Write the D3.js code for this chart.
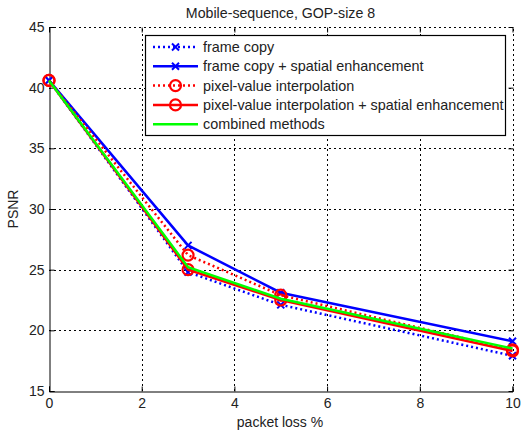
<!DOCTYPE html>
<html><head><meta charset="utf-8">
<script src="https://cdn.jsdelivr.net/npm/d3@7"></script>
<style>body{margin:0;background:#fff}svg{display:block}text{font-family:Arial,"Liberation Sans",sans-serif;fill:#222}</style>
</head><body>
<script>
const xValues = [0, 3, 5, 10];
const seriesNames = ["frame copy","frame copy + spatial enhancement","pixel-value interpolation","pixel-value interpolation + spatial enhancement","combined methods"];
const frameCopy = [40.6, 24.8, 22.1, 17.9];
const frameCopySE = [40.6, 27.0, 23.1, 19.1];
const pixelInterp = [40.6, 26.2, 22.9, 18.4];
const pixelInterpSE = [40.6, 25.0, 22.5, 18.3];
const combined = [40.6, 25.2, 22.6, 18.5];
const xTicks = [0,2,4,6,8,10];
const yTicks = [15,20,25,30,35,40,45];

const W=521,H=437;
const svg=d3.select("body").append("svg").attr("width",W).attr("height",H);
const x=d3.scaleLinear().domain([0,10]).range([49,512.5]);
const y=d3.scaleLinear().domain([15,45]).range([391,27]);
const FF="Arial,'Liberation Sans',sans-serif";

// grid
const g=svg.append("g");
g.selectAll(".gx").data(xTicks.slice(1)).enter().append("line")
 .attr("x1",d=>Math.round(x(d))+0.5).attr("x2",d=>Math.round(x(d))+0.5).attr("y1",y(15)).attr("y2",y(45))
 .attr("stroke","#000").attr("stroke-width",1).attr("stroke-dasharray","2,3");
g.selectAll(".gy").data(yTicks.slice(1)).enter().append("line")
 .attr("y1",d=>Math.round(y(d))+0.5).attr("y2",d=>Math.round(y(d))+0.5).attr("x1",x(0)).attr("x2",x(10))
 .attr("stroke","#000").attr("stroke-width",1).attr("stroke-dasharray","2,3");

// axes
const xa=svg.append("g").attr("transform",`translate(0,${Math.round(y(15))+0.5})`)
 .call(d3.axisBottom(x).tickValues(xTicks).tickSize(-5).tickPadding(7).tickFormat(d3.format("d")));
const xt=svg.append("g").attr("transform",`translate(0,${Math.round(y(45))+0.5})`)
 .call(d3.axisTop(x).tickValues(xTicks).tickSize(-5).tickFormat(""));
xt.select(".domain").remove();
const ya=svg.append("g").attr("transform",`translate(${Math.round(x(0))+0.5},0)`)
 .call(d3.axisLeft(y).tickValues(yTicks).tickSize(-5).tickPadding(5).tickFormat(d3.format("d")));
const yr=svg.append("g").attr("transform",`translate(${Math.round(x(10))+0.5},0)`)
 .call(d3.axisRight(y).tickValues(yTicks).tickSize(-5).tickFormat(""));
yr.select(".domain").remove();
[xa,ya].forEach(a=>{a.select(".domain").attr("stroke","#000");a.selectAll(".tick line").attr("stroke","#000");
 a.selectAll("text").style("font-size","14px").attr("fill","#222").style("font-family",FF);});
xt.selectAll(".tick line").attr("stroke","#000");
yr.selectAll(".tick line").attr("stroke","#000");

// series
const series=[
 {name:seriesNames[0],vals:frameCopy,color:"#0000ff",dash:"2,3",marker:"x"},
 {name:seriesNames[1],vals:frameCopySE,color:"#0000ff",dash:null,marker:"x"},
 {name:seriesNames[2],vals:pixelInterp,color:"#ff0000",dash:"2,3",marker:"o"},
 {name:seriesNames[3],vals:pixelInterpSE,color:"#ff0000",dash:null,marker:"o"},
 {name:seriesNames[4],vals:combined,color:"#00ff00",dash:null,marker:null}
];
const line=d3.line().x(d=>x(d[0])).y(d=>y(d[1]));
function drawMarker(sel,type,color,cx,cy){
 if(type==="x"){
  const s=3.5;
  sel.append("path").attr("d",`M${cx-s},${cy-s}L${cx+s},${cy+s}M${cx-s},${cy+s}L${cx+s},${cy-s}`)
   .attr("stroke",color).attr("stroke-width",2).attr("fill","none");
 } else if(type==="o"){
  sel.append("circle").attr("cx",cx).attr("cy",cy).attr("r",5.5).attr("fill","none").attr("stroke",color).attr("stroke-width",2.2);
 }
}
const plot=svg.append("g");
series.forEach(s=>{
 const pts=xValues.map((xv,i)=>[xv,s.vals[i]]);
 plot.append("path").datum(pts).attr("d",line).attr("fill","none").attr("stroke",s.color)
  .attr("stroke-width",2.5).attr("stroke-dasharray",s.dash);
 if(s.marker) pts.forEach(p=>drawMarker(plot,s.marker,s.color,x(p[0]),y(p[1])));
});

// legend
const lg=svg.append("g");
lg.append("rect").attr("x",145.5).attr("y",35.5).attr("width",360).attr("height",100)
 .attr("fill","#fff").attr("stroke","#000").attr("stroke-width",1.2);
series.forEach((s,i)=>{
 const ly=47+i*19.3;
 lg.append("line").attr("x1",153).attr("x2",198).attr("y1",ly).attr("y2",ly).attr("stroke",s.color)
  .attr("stroke-width",2.5).attr("stroke-dasharray",s.dash);
 if(s.marker) drawMarker(lg,s.marker,s.color,175.5,ly);
 lg.append("text").attr("x",203).attr("y",ly+5).style("font-size","14.4px").text(s.name);
});

// labels
svg.append("text").attr("x",280.5).attr("y",18).attr("text-anchor","middle").style("font-size","14.2px").text("Mobile-sequence, GOP-size 8");
svg.append("text").attr("x",280).attr("y",427).attr("text-anchor","middle").style("font-size","14px").text("packet loss %");
svg.append("text").attr("transform","translate(18,209) rotate(-90)").attr("text-anchor","middle").style("font-size","14px").text("PSNR");
</script>
</body></html>
